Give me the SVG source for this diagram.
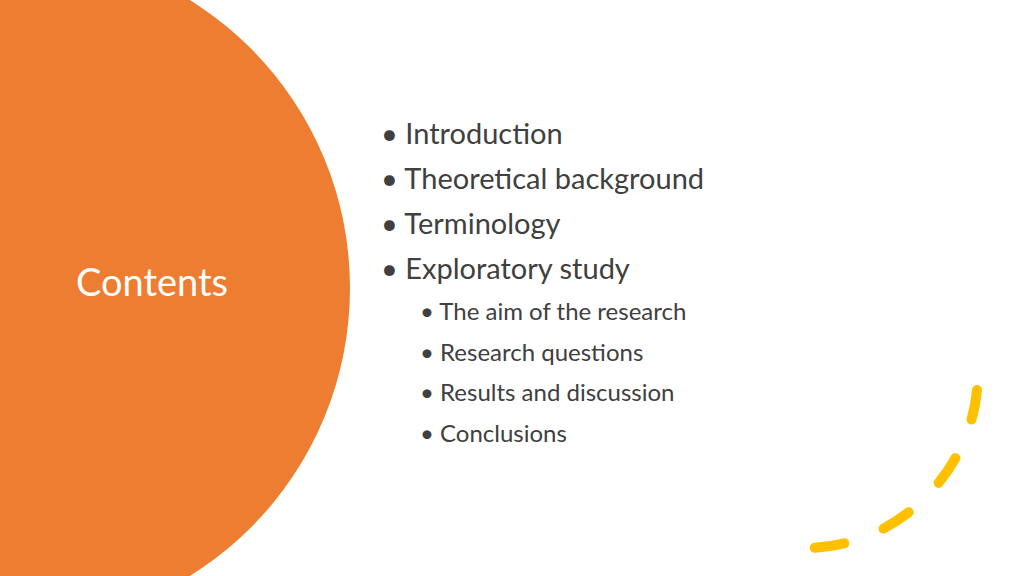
<svg xmlns="http://www.w3.org/2000/svg" width="1024" height="576" viewBox="0 0 1024 576">
<style>
.t{font-family:Lato,"Open Sans",sans-serif;fill:#404040}
.l1{font-size:29px}
.l2{font-size:24px}
</style>
<rect width="1024" height="576" fill="#fff"/>
<circle cx="11" cy="288" r="339" fill="#ED7D31"/>
<text x="152" y="296" text-anchor="middle" font-family="Lato,'Open Sans',sans-serif" font-size="38" fill="#fff">Contents</text>
<g class="t">
<text class="l1" x="381" y="144">• Introduction</text>
<text class="l1" x="381" y="189">• Theoretical background</text>
<text class="l1" x="381" y="234">• Terminology</text>
<text class="l1" x="381" y="279">• Exploratory study</text>
<text class="l2" x="420" y="320">• The aim of the research</text>
<text class="l2" x="420" y="361">• Research questions</text>
<text class="l2" x="420" y="401">• Results and discussion</text>
<text class="l2" x="420" y="442">• Conclusions</text>
</g>
<path d="M977,390 C970,470 900,548 805,548" fill="none" stroke="#FFC000" stroke-width="10" stroke-linecap="round" stroke-dasharray="30 42"/>
</svg>
